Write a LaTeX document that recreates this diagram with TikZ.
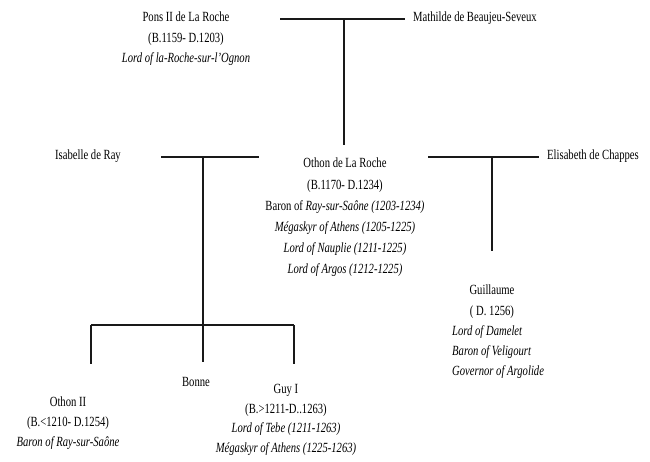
\documentclass[tikz,border=0pt]{standalone}
\usepackage{fontspec}
\setmainfont{Liberation Serif}[FakeStretch=0.76]
\begin{document}
\begin{tikzpicture}[x=1pt,y=-1pt,
  txt/.style={font=\fontsize{14}{20.5}\selectfont, inner sep=0pt, align=center, anchor=north},
  ltxt/.style={font=\fontsize{14}{20.5}\selectfont, inner sep=0pt, align=left, anchor=north west},
  rel/.style={line width=1.2pt, draw=black!90}]
\useasboundingbox (0,0) rectangle (650,461);
% people
\node[txt] (pons) at (186,12) {Pons II de La Roche\\(B.1159- D.1203)\\\textit{Lord of la-Roche-sur-l’Ognon}};
\node[ltxt] (mathilde) at (413,12) {Mathilde de Beaujeu-Seveux};
\node[ltxt] (isabelle) at (55,150) {Isabelle de Ray};
\node[ltxt] (elisabeth) at (547,150) {Elisabeth de Chappes};
\node[txt, font=\fontsize{14}{21.2}\selectfont] (othon) at (345,158) {Othon de La Roche\\(B.1170- D.1234)\\Baron of \textit{Ray-sur-Saône (1203-1234)}\\\textit{Mégaskyr of Athens (1205-1225)}\\\textit{Lord of Nauplie (1211-1225)}\\\textit{Lord of Argos (1212-1225)}};
\node[txt] (guill) at (492,285) {Guillaume\\( D. 1256)};
\node[ltxt, font=\fontsize{14}{20}\selectfont] (guilltitles) at (452,325) {\textit{Lord of Damelet}\\\textit{Baron of Veligourt}\\\textit{Governor of Argolide}};
\node[txt] (bonne) at (196,377) {Bonne};
\node[txt, font=\fontsize{14}{20}\selectfont] (othon2) at (68,397) {Othon II\\(B.<1210- D.1254)\\\textit{Baron of Ray-sur-Saône}};
\node[txt, font=\fontsize{14}{19.5}\selectfont] (guy) at (286,384.5) {Guy I\\(B.>1211-D..1263)\\\textit{Lord of Tebe (1211-1263)}\\\textit{Mégaskyr of Athens (1225-1263)}};
% connector points
\coordinate (m1l) at (280,19); \coordinate (m1r) at (405,19);
\coordinate (m1c) at (344,19); \coordinate (m1d) at (344,145);
\coordinate (m2l) at (161,157); \coordinate (m2r) at (259,157);
\coordinate (m2c) at (203,157); \coordinate (m2d) at (203,325);
\coordinate (m3l) at (428,157); \coordinate (m3r) at (539,157);
\coordinate (m3c) at (492,157); \coordinate (m3d) at (492,251);
\coordinate (barl) at (91,325); \coordinate (barr) at (294,325);
\coordinate (c1) at (91,364); \coordinate (c2) at (203,362); \coordinate (c3) at (294,364);
% connectors
\draw[rel] (m1l) -- (m1r);
\draw[rel] (m1c) -- (m1d);
\draw[rel] (m2l) -- (m2r);
\draw[rel] (m2c) -- (m2d);
\draw[rel] (m3l) -- (m3r);
\draw[rel] (m3c) -- (m3d);
\draw[rel] (barl) -- (barr);
\draw[rel] (barl) -- (c1);
\draw[rel] (m2d) -- (c2);
\draw[rel] (barr) -- (c3);
\end{tikzpicture}
\end{document}
